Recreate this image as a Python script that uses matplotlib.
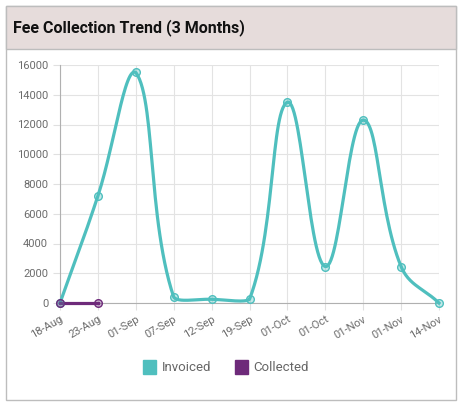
import numpy as np
import matplotlib.pyplot as plt
from matplotlib.patches import Rectangle, Patch

# chart data
dates = ["18-Aug", "23-Aug", "01-Sep", "07-Sep", "12-Sep", "19-Sep",
         "01-Oct", "01-Oct", "01-Nov", "01-Nov", "14-Nov"]
invoiced = [0, 7200, 15500, 400, 250, 250, 13500, 2450, 12300, 2450, 0]
collected = [0, 0]
y_ticks = list(range(0, 16001, 2000))

teal = "#4fbfbe"
purple = "#6e2a7a"

plt.rcParams['font.family'] = ['Roboto', 'DejaVu Sans']

fig = plt.figure(figsize=(4.62, 4.05), dpi=100)
W, H = 462, 405

# card frame and header (behind the axes)
frame = Rectangle((6 / W, 1 - 400 / H), 450 / W, 394 / H, transform=fig.transFigure,
                  facecolor="white", edgecolor="#bdbdbd", linewidth=1, zorder=-10)
header = Rectangle((6 / W, 1 - 49 / H), 450 / W, 43 / H, transform=fig.transFigure,
                   facecolor="#e6dcdb", edgecolor="#bdbdbd", linewidth=1, zorder=-9)
fig.add_artist(frame)
fig.add_artist(header)
fig.text(13 / W, 1 - 28 / H, "Fee Collection Trend (3 Months)", fontsize=11.5, fontweight="bold",
         color="#111111", va="center", ha="left")

ax = fig.add_axes([60 / W, 1 - 303 / H, 379 / W, 238 / H])
ax.set_zorder(1)
ax.set_facecolor("none")
ax.set_xlim(0, len(dates) - 1)
ax.set_ylim(0, 16000)
ax.set_xticks(range(len(dates)))
ax.set_xticklabels(dates, rotation=30, ha="right", rotation_mode="anchor")
ax.set_yticks(y_ticks)
ax.tick_params(labelcolor="#6b6b6b", labelsize=8, length=5, width=0.8, color="#e0e0e0")
ax.tick_params(axis="x", pad=3)
ax.grid(True, color="#e3e3e3", linewidth=0.8)
ax.set_axisbelow(True)
for side in ["top", "right"]:
    ax.spines[side].set_visible(False)
for side in ["left", "bottom"]:
    ax.spines[side].set_color("#b0b0b0")


def chartjs_curve(xs, ys, tension=0.4, steps=30):
    # Chart.js style bezier spline, computed in pixel space
    pts = ax.transData.transform(np.column_stack([xs, ys]).astype(float))
    n = len(pts)
    bbox = ax.bbox
    cps = []
    for i in range(n):
        prev = pts[i - 1] if i > 0 else pts[i]
        cur = pts[i]
        nxt = pts[i + 1] if i < n - 1 else pts[i]
        d01 = np.hypot(*(cur - prev))
        d12 = np.hypot(*(nxt - cur))
        tot = d01 + d12
        s01 = d01 / tot if tot else 0
        s12 = d12 / tot if tot else 0
        c1 = cur - tension * s01 * (nxt - prev)
        c2 = cur + tension * s12 * (nxt - prev)
        c1[1] = np.clip(c1[1], bbox.y0, bbox.y1)
        c2[1] = np.clip(c2[1], bbox.y0, bbox.y1)
        cps.append((c1, c2))
    out = [pts[0]]
    t = np.linspace(0, 1, steps)[1:, None]
    for i in range(n - 1):
        p0, p3 = pts[i], pts[i + 1]
        p1, p2 = cps[i][1], cps[i + 1][0]
        seg = (1 - t) ** 3 * p0 + 3 * (1 - t) ** 2 * t * p1 + 3 * (1 - t) * t ** 2 * p2 + t ** 3 * p3
        out.extend(seg)
    out = np.array(out)
    return ax.transData.inverted().transform(out)


for values, color in [(invoiced, teal), (collected, purple)]:
    xs = np.arange(len(values))
    curve = chartjs_curve(xs, values)
    ax.plot(curve[:, 0], curve[:, 1], color=color, linewidth=2.3, clip_on=False, zorder=3)
    ax.plot(xs, values, linestyle="none", marker="o", markersize=5.5, markeredgewidth=1,
            markeredgecolor=color, markerfacecolor=color + "55", clip_on=False, zorder=4)

handles = [Patch(facecolor=teal, edgecolor=teal, label="Invoiced"),
           Patch(facecolor=purple, edgecolor=purple, label="Collected")]
fig.legend(handles=handles, loc="center", bbox_to_anchor=(226 / W, 1 - 367 / H), ncol=2,
           frameon=False, fontsize=9.5, handlelength=1.0, handleheight=1.3, handletextpad=0.4,
           columnspacing=1.8, labelcolor="#666666")

fig.savefig("out.png", dpi=100)
